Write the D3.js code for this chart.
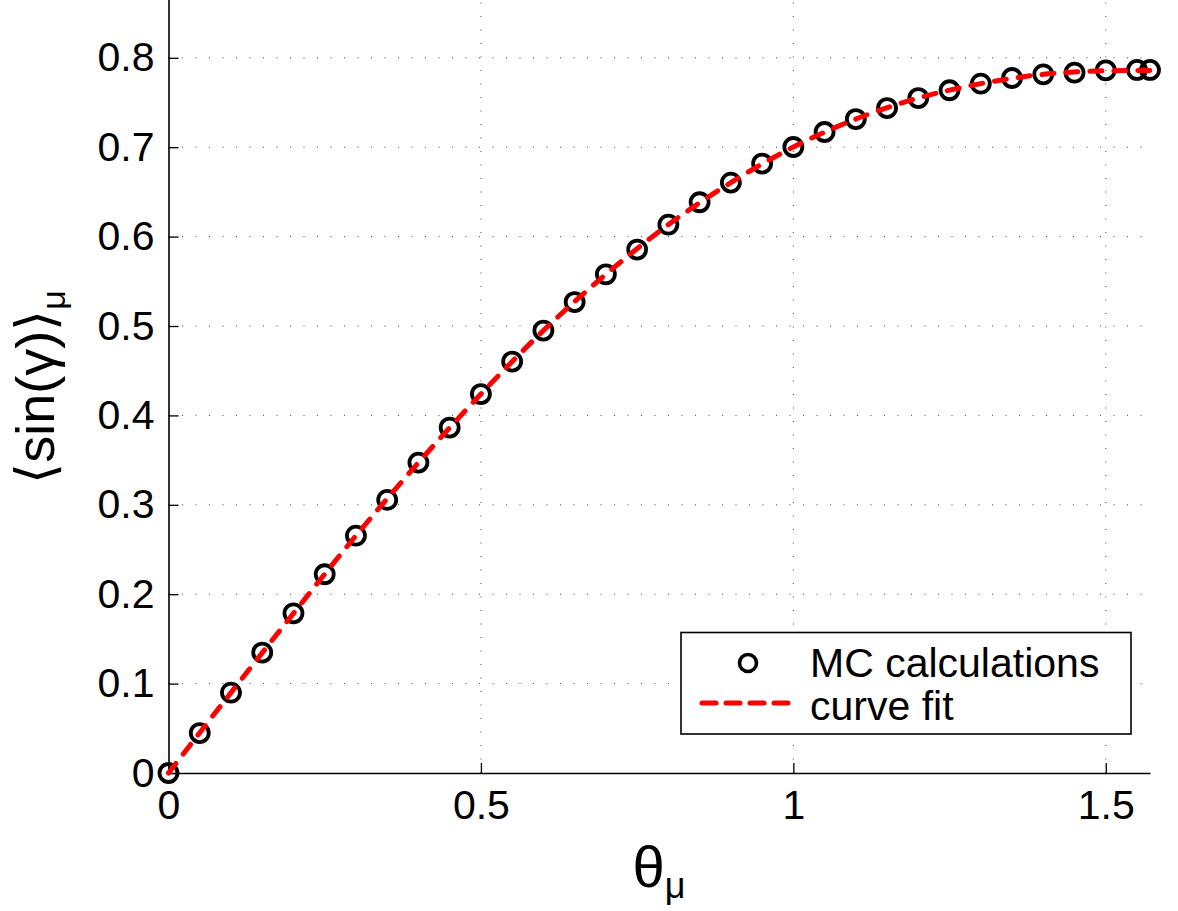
<!DOCTYPE html>
<html>
<head>
<meta charset="utf-8">
<script src="https://cdn.jsdelivr.net/npm/d3@7"></script>
<style>
  body { margin: 0; background: #fff; }
  svg { display: block; font-family: "Liberation Sans", Arial, sans-serif; }
</style>
</head>
<body>
<div class="box"></div>
<script>
// Monte Carlo points (theta in rad, <sin(gamma)>)
const mcTheta = [0, 0.05, 0.1, 0.15, 0.2, 0.25, 0.3, 0.35, 0.4, 0.45, 0.5, 0.55, 0.6, 0.65, 0.7, 0.75,
                 0.8, 0.85, 0.9, 0.95, 1.0, 1.05, 1.1, 1.15, 1.2, 1.25, 1.3, 1.35, 1.4, 1.45, 1.5, 1.55, 1.5708];
const mcValues = [0, 0.0447, 0.0899, 0.1347, 0.1786, 0.2223, 0.2655, 0.3055, 0.3472, 0.3864, 0.4239, 0.4602,
                  0.4949, 0.5268, 0.5578, 0.5855, 0.6134, 0.6384, 0.6604, 0.6817, 0.7002, 0.717, 0.7315,
                  0.7438, 0.755, 0.7637, 0.7711, 0.7774, 0.7815, 0.7834, 0.786, 0.7864, 0.7864];

// curve fit
const fitTheta = [0, 0.1, 0.2, 0.3, 0.4, 0.5, 0.6, 0.7, 0.8, 0.9, 1.0, 1.1, 1.2, 1.3, 1.4, 1.5, 1.5708];
const fitValues = [0, 0.0899, 0.1786, 0.2655, 0.3472, 0.4239, 0.4949, 0.5578, 0.6134, 0.6604, 0.7002,
                   0.7315, 0.755, 0.7711, 0.7815, 0.7855, 0.7858];

// tick labels (0.9 sits above the cropped top edge)
const xTicks = [0, 0.5, 1, 1.5];
const yTicks = [0, 0.1, 0.2, 0.3, 0.4, 0.5, 0.6, 0.7, 0.8];

const w = 1178;
const h = 911;
const left = 168.5;
const right = 1150;
const bottom = 773;

const xScale = d3.scaleLinear()
                .domain([0, Math.PI / 2])
                .range([left, right]);
// top of the axes (0.9) falls just outside the picture
const yScale = d3.scaleLinear()
                .domain([0, 0.9])
                .range([bottom, bottom - 0.9 * 894]);

const svg = d3.select(".box")
            .append("svg")
            .attr("width", w)
            .attr("height", h);

// dotted grid
svg.append("g")
    .selectAll("line")
    .data(yTicks.filter(d => d > 0))
    .enter()
    .append("line")
    .attr("x1", left)
    .attr("x2", right)
    .attr("y1", d => yScale(d))
    .attr("y2", d => yScale(d))
    .style("stroke", "#444")
    .style("stroke-width", 1)
    .style("stroke-dasharray", "1,12.5");

svg.append("g")
    .selectAll("line")
    .data(xTicks.filter(d => d > 0))
    .enter()
    .append("line")
    .attr("x1", d => xScale(d))
    .attr("x2", d => xScale(d))
    .attr("y1", bottom)
    .attr("y2", 0)
    .style("stroke", "#444")
    .style("stroke-width", 1)
    .style("stroke-dasharray", "1,12.5");

// axes, ticks pointing inward like matlab
const xAxis = d3.axisBottom(xScale)
                .tickValues(xTicks)
                .tickFormat(d3.format("~g"))
                .tickSizeInner(-10)
                .tickSizeOuter(0)
                .tickPadding(17);
const yAxis = d3.axisLeft(yScale)
                .tickValues(yTicks)
                .tickFormat(d3.format("~g"))
                .tickSizeInner(-10)
                .tickSizeOuter(0)
                .tickPadding(14);

const gx = svg.append("g")
    .attr("transform", "translate(0," + bottom + ")")
    .call(xAxis);
const gy = svg.append("g")
    .attr("transform", "translate(" + left + ",0)")
    .call(yAxis);

[gx, gy].forEach(g => {
    g.select(".domain").style("stroke", "#000").style("stroke-width", 1.6);
    g.selectAll(".tick line").style("stroke", "#000").style("stroke-width", 1.3);
    g.selectAll(".tick text")
        .style("font-size", "41px")
        .style("font-family", "Liberation Sans, Arial, sans-serif")
        .style("fill", "#000");
});

// MC circles
svg.append("g")
    .selectAll("circle")
    .data(mcTheta)
    .enter()
    .append("circle")
    .attr("cx", d => xScale(d))
    .attr("cy", (d, i) => yScale(mcValues[i]))
    .attr("r", 9)
    .style("fill", "none")
    .style("stroke", "#000")
    .style("stroke-width", 3.8);

// fitted curve on top
const line = d3.line()
                .x(d => xScale(d[0]))
                .y(d => yScale(d[1]))
                .curve(d3.curveMonotoneX);

svg.append("path")
    .datum(fitTheta.map((t, i) => [t, fitValues[i]]))
    .attr("d", line)
    .style("fill", "none")
    .style("stroke", "#ff0000")
    .style("stroke-width", 5)
    .style("stroke-linecap", "round")
    .style("stroke-dasharray", "12,12");

// legend
const legend = svg.append("g");
legend.append("rect")
    .attr("x", 681)
    .attr("y", 632.5)
    .attr("width", 450)
    .attr("height", 101.5)
    .style("fill", "#fff")
    .style("stroke", "#000")
    .style("stroke-width", 1.6);
legend.append("circle")
    .attr("cx", 748)
    .attr("cy", 663)
    .attr("r", 8.5)
    .style("fill", "none")
    .style("stroke", "#000")
    .style("stroke-width", 3.6);
legend.append("line")
    .attr("x1", 702)
    .attr("x2", 790)
    .attr("y1", 703)
    .attr("y2", 703)
    .style("stroke", "#ff0000")
    .style("stroke-width", 5)
    .style("stroke-linecap", "round")
    .style("stroke-dasharray", "14,10");
legend.append("text")
    .attr("x", 810)
    .attr("y", 677)
    .style("font-size", "41px")
    .text("MC calculations");
legend.append("text")
    .attr("x", 810)
    .attr("y", 720)
    .style("font-size", "41px")
    .text("curve fit");

// axis labels
const xl = svg.append("text")
    .attr("x", 659)
    .attr("y", 887)
    .attr("text-anchor", "middle")
    .style("font-size", "58px");
xl.append("tspan").text("θ");
xl.append("tspan")
    .attr("dy", 11)
    .style("font-size", "36px")
    .text("μ");

const yl = svg.append("text")
    .attr("transform", "translate(54,387) rotate(-90)")
    .attr("text-anchor", "middle")
    .style("font-size", "54px");
yl.append("tspan").text("⟨sin(γ)⟩");
yl.append("tspan")
    .attr("dy", 11)
    .style("font-size", "34px")
    .text("μ");
</script>
</body>
</html>
